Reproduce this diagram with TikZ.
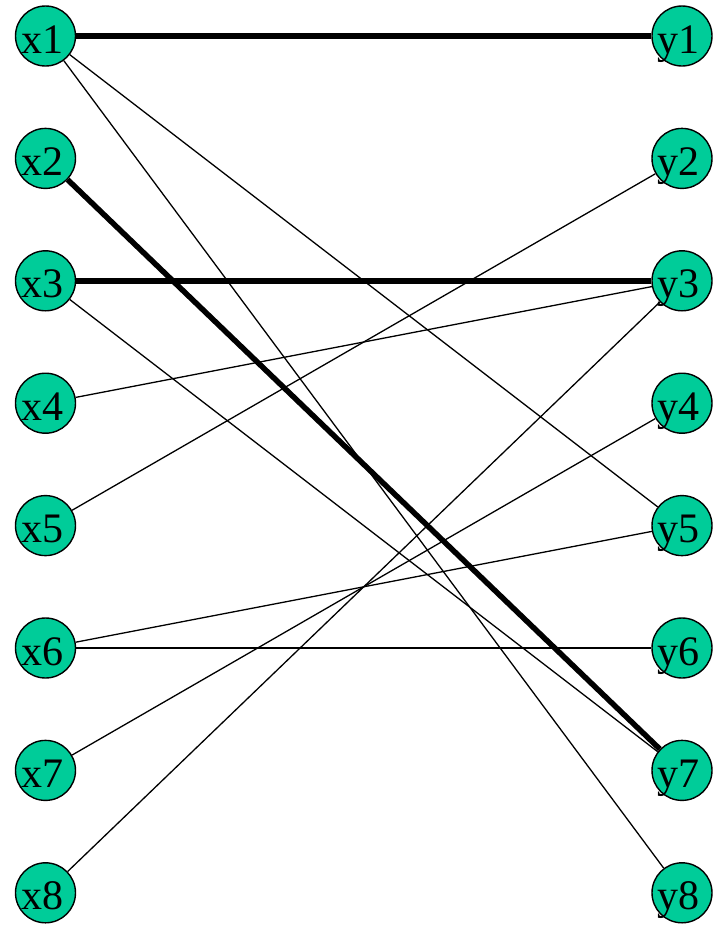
\documentclass[tikz,border=0pt]{standalone}
\usepackage{fontspec}
\setmainfont{Liberation Serif}
\definecolor{nodegreen}{RGB}{0,204,153}
\begin{document}
\begin{tikzpicture}[x=1pt,y=-1pt,
  vert/.style={circle,draw=black,line width=1.4pt,fill=nodegreen,minimum size=60pt,inner sep=0pt},
  lab/.style={anchor=base,font=\fontsize{42}{42}\selectfont,inner sep=0pt},
  thin/.style={line width=1.3pt},
  thick/.style={line width=5.5pt}]
\useasboundingbox (0,0) rectangle (720,932);
\foreach \i in {1,...,8}{
  \pgfmathsetmacro{\yy}{36+122.4*(\i-1)}
  \node[vert] (x\i) at (45.5,\yy) {};
  \node[vert] (y\i) at (682,\yy) {};
}
\begin{scope}[on background layer/.style={}]
\draw[thick] (x1) -- (y1);
\draw[thick] (x2) -- (y7);
\draw[thick] (x3) -- (y3);
\draw[thin] (x1) -- (y5);
\draw[thin] (x1) -- (y8);
\draw[thin] (x3) -- (y7);
\draw[thin] (x4) -- (y3);
\draw[thin] (x5) -- (y2);
\draw[thin] (x6) -- (y5);
\draw[thin] (x6) -- (y6);
\draw[thin] (x7) -- (y4);
\draw[thin] (x8) -- (y3);
\end{scope}
\foreach \i in {1,...,8}{
  \node[lab] (lx\i) at ([xshift=-3pt,yshift=-17pt]x\i.center) {x\i};
  \node[lab] (ly\i) at ([xshift=-4pt,yshift=-17pt]y\i.center) {y\i};
}
\end{tikzpicture}
\end{document}
